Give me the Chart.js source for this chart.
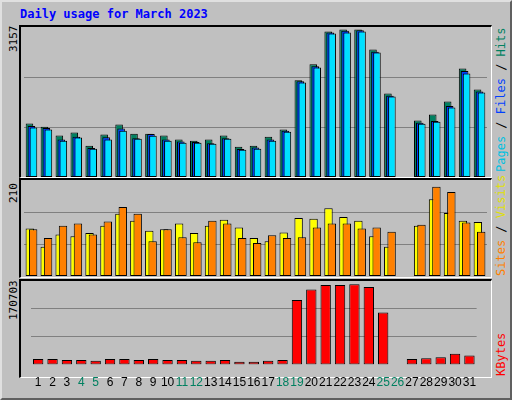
<!DOCTYPE html>
<html><head><meta charset="utf-8">
<script src="https://cdn.jsdelivr.net/npm/chart.js@4"></script>
<style>
body{margin:0;width:512px;height:400px;background:#c0c0c0;position:relative;overflow:hidden;font-family:"DejaVu Sans Mono",monospace}
#outer{position:absolute;left:0;top:0;width:508px;height:396px;border:2px solid;border-color:#e0e0e0 #606060 #606060 #e0e0e0}
.panel{position:absolute;box-sizing:border-box;border-style:solid;border-width:2px 1px 1px 2px;border-color:#000 #fff #fff #000}
canvas{position:absolute}
.t{position:absolute;font-weight:bold;white-space:nowrap}
.rl{position:absolute;font-size:12px;white-space:nowrap;transform-origin:0 0;transform:rotate(-90deg)}
</style></head><body>
<div id="outer"></div>
<div class="t" style="left:20px;top:7px;color:#0000ff;font-size:12px">Daily usage for March 2023</div>
<div class="panel" style="left:19px;top:25px;width:473px;height:153px"></div>
<div class="panel" style="left:19px;top:178px;width:473px;height:100px"></div>
<div class="panel" style="left:19px;top:279px;width:473px;height:99px"></div>
<div class="rl" style="left:7px;top:52px;color:#000;font-size:11px">3157</div>
<div class="rl" style="left:7px;top:203px;color:#000;font-size:11px">210</div>
<div class="rl" style="left:7px;top:320px;color:#000;font-size:11px">170703</div>
<div class="rl" style="left:494px;top:172px"><span style="color:#00c0e0">Pages</span><span style="color:#000"> / </span><span style="color:#0040ff">Files</span><span style="color:#000"> / </span><span style="color:#008060">Hits</span></div>
<div class="rl" style="left:494px;top:276px"><span style="color:#ff8000">Sites</span><span style="color:#000"> / </span><span style="color:#e0e000">Visits</span></div>
<div class="rl" style="left:494px;top:376px;color:#ff0000">KBytes</div>
<canvas id="c1" width="463" height="150" style="left:24px;top:27px"></canvas>
<canvas id="c2" width="463" height="96" style="left:24px;top:180px"></canvas>
<canvas id="c3" width="463" height="120" style="left:24px;top:281px"></canvas>
<script>
const days=["1","2","3","4","5","6","7","8","9","10","11","12","13","14","15","16","17","18","19","20","21","22","23","24","25","26","27","28","29","30","31"];
const weekend=["4","5","11","12","18","19","25","26"];
const hits=[1143,1078,886,950,671,907,1121,928,928,886,800,778,800,886,650,671,864,1014,2071,2413,3113,3157,3157,2727,1785,0,1207,1335,1614,2320,1871];
const files=[1090,1050,800,860,620,850,1040,830,920,800,760,750,720,830,600,630,800,990,2050,2370,3090,3130,3140,2680,1740,0,1160,1200,1520,2270,1830];
const pages=[1057,1014,778,843,607,800,992,821,885,778,735,735,714,821,585,607,778,971,2021,2342,3070,3092,3113,2663,1721,0,1142,1185,1485,2213,1806];
const visits=[104,64,91,87,94,110,136,121,99,102,115,94,110,123,106,83,76,95,127,125,148,129,121,87,64,0,110,168,138,121,118];
const sites=[102,83,110,115,91,119,151,136,76,102,85,74,121,115,83,72,89,83,85,106,115,115,104,106,97,0,112,195,184,117,97];
const kbytes=[11400,11400,9600,9600,7800,11400,11400,9600,11400,9600,9600,7800,7800,9600,6000,6000,7800,9600,131800,153300,162300,162300,164100,158700,106600,0,11400,13200,15000,22200,18600];
const maxHits=3157, maxVisits=210, maxKB=170703;

// draw datasets in index order so the rightmost bar of each group is on top
const drawOrder={id:'drawOrder',
  beforeDatasetDraw:()=>false,
  afterDatasetsDraw:(chart)=>{
    const ctx=chart.ctx;
    ctx.save();
    ctx.beginPath();ctx.rect(chart.chartArea.left,chart.chartArea.top-2,chart.chartArea.width,chart.chartArea.height+2);ctx.clip();
    chart.data.datasets.forEach((d,i)=>{const m=chart.getDatasetMeta(i);m.controller.draw();});
    ctx.restore();
  }};
function yScale(max){
  return {min:0,max:max,display:true,border:{display:false},
    ticks:{display:false},grid:{color:'#808080',lineWidth:1,drawTicks:false},
    afterBuildTicks:s=>{s.ticks=[{value:max/3},{value:max*2/3}];}};
}
const common={responsive:false,animation:false,devicePixelRatio:1,
  layout:{padding:0},plugins:{legend:{display:false},tooltip:{enabled:false}}};
function ds(data,color,extra){
  return Object.assign({data:data,backgroundColor:color,borderColor:'#000',borderWidth:1,borderSkipped:false},extra);
}
new Chart(document.getElementById('c1'),{type:'bar',plugins:[drawOrder],
  data:{labels:days,datasets:[
    ds(hits,'#008060',{categoryPercentage:0.4,barPercentage:3.8}),
    ds(files,'#0040ff',{categoryPercentage:0.4,barPercentage:3.8}),
    ds(pages,'#00e0ff',{categoryPercentage:0.4,barPercentage:3.8})]},
  options:Object.assign({},common,{scales:{x:{display:false},y:yScale(3210)}})});
new Chart(document.getElementById('c2'),{type:'bar',plugins:[drawOrder],
  data:{labels:days,datasets:[
    ds(visits,'#ffff00',{categoryPercentage:0.45,barPercentage:2.5}),
    ds(sites,'#ff8000',{categoryPercentage:0.45,barPercentage:2.5})]},
  options:Object.assign({},common,{scales:{x:{display:false},y:yScale(maxVisits)}})});
new Chart(document.getElementById('c3'),{type:'bar',
  data:{labels:days,datasets:[
    ds(kbytes,'#ff0000',{categoryPercentage:0.72,barPercentage:1})]},
  options:Object.assign({},common,{scales:{
    x:{display:true,border:{display:false},grid:{display:false,drawTicks:false},
       ticks:{padding:11,maxRotation:0,autoSkip:false,font:{family:'Liberation Sans',size:12},
         color:c=>weekend.includes(days[c.index])?'#008060':'#000'}},
    y:yScale(maxKB)}})});
</script>
</body></html>
